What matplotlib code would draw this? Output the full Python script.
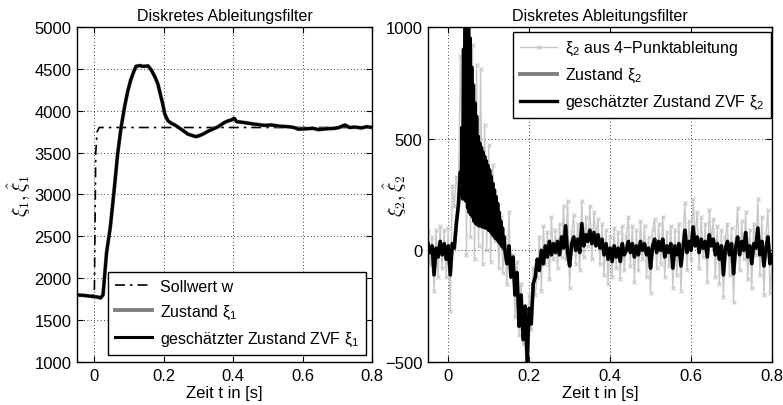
import numpy as np
import matplotlib
matplotlib.use("Agg")
import matplotlib.pyplot as plt

plt.rcParams['font.family'] = ['Liberation Sans', 'DejaVu Sans']
plt.rcParams['mathtext.fontset'] = 'custom'
plt.rcParams['mathtext.rm'] = 'Liberation Sans'
plt.rcParams['mathtext.it'] = 'Liberation Sans'
plt.rcParams['mathtext.bf'] = 'Liberation Sans:bold'
plt.rcParams['font.size'] = 12

# --- left plot: position xi1 ---
t1 = [-0.05, -0.03, -0.01, 0.0, 0.01, 0.018, 0.025, 0.035, 0.046, 0.057,
      0.067, 0.077, 0.087, 0.096, 0.105, 0.113, 0.12, 0.13, 0.14, 0.155,
      0.165, 0.175, 0.183, 0.19, 0.197, 0.203, 0.212, 0.222, 0.232, 0.25,
      0.27, 0.293, 0.31, 0.33, 0.357, 0.375, 0.386, 0.395, 0.403, 0.41,
      0.43, 0.461, 0.49, 0.51, 0.535, 0.559, 0.575, 0.588, 0.61, 0.63,
      0.646, 0.67, 0.693, 0.705, 0.722, 0.735, 0.751, 0.77, 0.785, 0.8]
xi1 = [1800, 1795, 1785, 1780, 1775, 1765, 1800, 2300, 2610, 3050,
       3480, 3800, 4045, 4230, 4370, 4460, 4530, 4540, 4530, 4535,
       4480, 4400, 4320, 4200, 4080, 3960, 3880, 3850, 3830, 3780,
       3720, 3690, 3715, 3760, 3810, 3860, 3880, 3890, 3910, 3870,
       3860, 3840, 3825, 3830, 3815, 3810, 3800, 3780, 3785, 3790,
       3775, 3785, 3790, 3800, 3830, 3800, 3805, 3795, 3810, 3800]
tw = [-0.05, 0.0, 0.004, 0.008, 0.014, 0.8]
w = [1800, 1800, 3500, 3750, 3800, 3800]

# --- right plot: velocity xi2 ---
# estimated state: 5 ms samples before/after the peak, 2 ms samples in the peak
est_pre = [30, -10, 20, -110, 10, -30, 40, -20, 30, -40, 20, -110, 30, 10,
           120, 200]                                   # -0.050 .. 0.025
est_peak = [350, 250, 550, 230, 900, 240, 1100, 220, 1100, 190,
            1080, 170, 950, 160, 820, 150, 740, 130, 660, 120,
            600, 115, 510, 110, 480, 110, 460, 105, 440, 105,
            420, 100, 400, 100, 380, 90, 360, 85, 330, 75,
            300, 65, 270, 55, 240, 50, 210, 40, 170, 30,
            130, 20, 100, 10, 60, 0]                   # 0.030 .. 0.140
est_post = [-60, 20, -120, -30, -200, -100, -340, -200, -400, -250,
            -500, -260, -330, -150, -120,             # 0.145 .. 0.215
            -40, -90, 0, -60, 20, -30, 40, -20, 30, -10,
            40, -20, 60, 10, 110, -10, -70, 30, 60, 0,
            50, -10, 120, 20, 70, 40, 90, 30, 80, 20,
            70, 10, 50, -20, 30, -40, 10, -50, 20, -30,
            10, -50, 30, -20, 0, 40, -10, 30, -30, 20,
            -20, 40, 0, 30, -20, 10, -80, 20, 50, -10,
            40, 0, 50, -30, 20, -10, 30, -80, 20, -20,
            30, -70, 10, 90, -10, 40, 0, 105, 20, 60,
            -10, 50, 10, 40, -30, 70, 20, 50, -20, 30,
            -40, 20, -110, 10, 40, -20, 30, -105, 10, 60,
            -20, 40, 0, 80, -30, 20, -60, 30, 10, 100,
            -20, 40, -70, 10, 60, -60, -20]            # 0.220 .. 0.800

# 4-point derivative, 5 ms samples from -0.05 to 0.8
xi2_4pt = [80, -60, 60, -180, 90, -120, 110, -80, 90, -120, 100, -270, 290, 200,
           330, 250, 870, 350,
           1300, -20, 1200, 60, 920, -40, 830, 20, 810, -60, 560, 0, 470,
           -50, 380, 40, 200, -80, 150,
           -100, 60, -150, 170, -120, -20, -300, -50, -380, -150, -420, -250,
           -560, -200, -350, -80, -200,
           -120, 60, -180, 110, -60, 80, -130, 150, -40, 90,
           -80, 120, -30, 200, -40, 220, -170, 80, 160, -60,
           120, -90, 220, -30, 150, 20, 200, -40, 170, 60,
           140, -60, 120, -110, 90, -150, 60, -120, 100, -80,
           80, -130, 110, -90, 60, 150, -70, 110, -140, 90,
           -90, 130, -40, 110, -120, 60, -190, 90, 140, -80,
           120, -60, 150, -120, 80, -70, 110, -170, 90, -110,
           120, -180, 70, 210, -90, 130, -40, 230, 60, 170,
           -80, 150, -30, 120, -140, 180, 40, 140, -120, 110,
           -150, 90, -210, 60, 120, -110, 100, -230, 50, 190,
           -90, 130, -40, 170, -130, 90, -170, 120, -20, 230,
           -110, 150, -200, 70, 180, -190, -60]

t_4pt = -0.05 + 0.005 * np.arange(len(xi2_4pt))
t_est = np.concatenate([-0.05 + 0.005 * np.arange(len(est_pre)),
                        0.03 + 0.002 * np.arange(len(est_peak)),
                        0.145 + 0.005 * np.arange(len(est_post))])
xi2_est = est_pre + est_peak + est_post

xticks = [0, 0.2, 0.4, 0.6, 0.8]
yticks1 = [1000, 1500, 2000, 2500, 3000, 3500, 4000, 4500, 5000]
yticks2 = [-500, 0, 500, 1000]

fig = plt.figure(figsize=(7.83, 4.06), dpi=100)
ax1 = fig.add_axes([77 / 783, 1 - 363 / 406, 295 / 783, 335 / 406])
ax2 = fig.add_axes([428 / 783, 1 - 363 / 406, 344 / 783, 335 / 406])


def style(ax, yt, ylim):
    ax.set_xlim(-0.05, 0.8)
    ax.set_ylim(*ylim)
    ax.set_xticks(xticks)
    ax.set_xticklabels(['0', '0.2', '0.4', '0.6', '0.8'])
    ax.set_yticks(yt)
    ax.tick_params(direction='in', top=True, right=True, length=4, width=0.8, pad=4)
    ax.grid(True, linestyle=(0, (1, 3)), color='black', linewidth=0.6)
    for s in ax.spines.values():
        s.set_linewidth(1.0)
    ax.set_title('Diskretes Ableitungsfilter', fontsize=11.5, pad=5)
    ax.set_xlabel('Zeit t in [s]', labelpad=2)


legend_kw = dict(borderaxespad=0, fancybox=False, framealpha=1, edgecolor='black',
                 handlelength=2.3, handletextpad=0.5, labelspacing=0.55,
                 borderpad=0.45, fontsize=11.5, numpoints=1)

# left
ax1.plot(tw, w, color='black', linestyle=(0, (6, 3, 1.5, 3)), linewidth=1.2,
         label='Sollwert w')
ax1.plot(t1, xi1, color='#808080', linewidth=2.8, label=r'Zustand $\xi_1$')
ax1.plot(t1, xi1, color='black', linewidth=2.2,
         label=r'geschätzter Zustand ZVF $\xi_1$')
style(ax1, yticks1, (1000, 5000))
ax1.set_ylabel(r'$\xi_1, \hat{\xi}_1$', fontsize=14, math_fontfamily='cm')
ax1.yaxis.set_label_coords(-0.15, 0.5)
leg1 = ax1.legend(loc='lower right', bbox_to_anchor=(0.98, 0.021), **legend_kw)
leg1.get_frame().set_linewidth(1.0)

# right
ax2.plot(t_4pt, xi2_4pt, color='#c8c8c8', linewidth=1.0, marker='x', markersize=3,
         markeredgewidth=0.8, label=r'$\xi_2$ aus 4$-$Punktableitung')
ax2.plot(t_est, xi2_est, color='#808080', linewidth=2.8, label=r'Zustand $\xi_2$')
ax2.plot(t_est, xi2_est, color='black', linewidth=2.4,
         label=r'geschätzter Zustand ZVF $\xi_2$')
style(ax2, yticks2, (-500, 1000))
ax2.set_ylabel(r'$\xi_2, \hat{\xi}_2$', fontsize=14, math_fontfamily='cm')
ax2.yaxis.set_label_coords(-0.055, 0.5)
leg2 = ax2.legend(loc='upper right', bbox_to_anchor=(0.997, 0.985), **legend_kw)
leg2.get_frame().set_linewidth(1.0)

fig.savefig('out.png', dpi=100)
